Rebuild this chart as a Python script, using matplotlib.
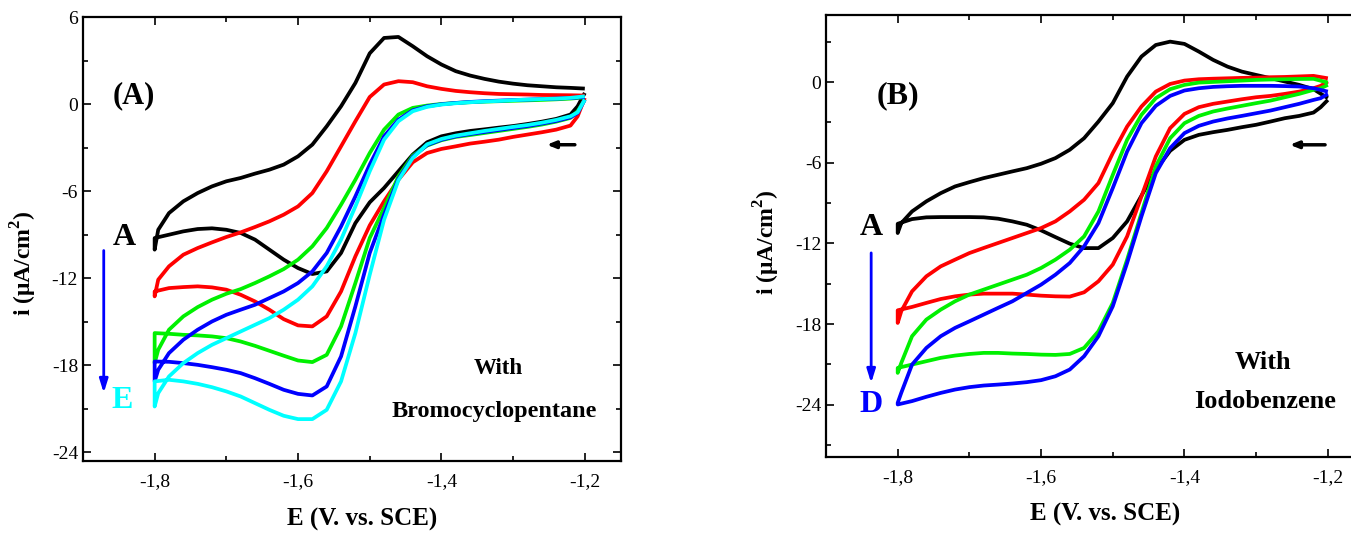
import matplotlib
matplotlib.use("Agg")
import matplotlib.pyplot as plt
from matplotlib.ticker import FixedLocator, FuncFormatter

plt.rcParams['font.family'] = ['Liberation Serif', 'DejaVu Serif']
plt.rcParams['axes.unicode_minus'] = False
plt.rcParams['mathtext.fontset'] = 'custom'
plt.rcParams['mathtext.rm'] = 'Liberation Serif'
plt.rcParams['mathtext.bf'] = 'Liberation Serif:bold'

# potential grids (V vs SCE): forward (cathodic) scan, then return scan
E_cath = [-1.20, -1.21, -1.22, -1.24, -1.26, -1.28, -1.30, -1.32, -1.34, -1.36,
          -1.38, -1.40, -1.42, -1.44, -1.46, -1.48, -1.50, -1.52, -1.54, -1.56,
          -1.58, -1.60, -1.62, -1.64, -1.66, -1.68, -1.70, -1.72, -1.74, -1.76,
          -1.78, -1.80]
E_anod = [-1.80, -1.795, -1.78, -1.76, -1.74, -1.72, -1.70, -1.68, -1.66, -1.64,
          -1.62, -1.60, -1.58, -1.56, -1.54, -1.52, -1.50, -1.48, -1.46, -1.44,
          -1.42, -1.40, -1.38, -1.36, -1.34, -1.32, -1.30, -1.28, -1.26, -1.24,
          -1.22, -1.20]

# panel A: with bromocyclopentane (i in uA/cm2)
a_black_c = [0.77, -0.15, -0.72, -1.02, -1.21, -1.37, -1.51, -1.62, -1.74, -1.85, -2.01, -2.22, -2.63, -3.48, -4.63, -5.78, -6.77, -8.20, -10.26, -11.53, -11.71, -11.30, -10.72, -10.03, -9.34, -8.88, -8.66, -8.56, -8.61, -8.77, -9.00, -9.23]
a_red_c = [0.43, -0.84, -1.48, -1.76, -1.94, -2.10, -2.26, -2.45, -2.59, -2.72, -2.91, -3.09, -3.37, -4.01, -5.21, -6.70, -8.36, -10.49, -12.91, -14.63, -15.32, -15.25, -14.82, -14.17, -13.60, -13.14, -12.79, -12.63, -12.56, -12.61, -12.68, -12.91]
a_green_c = [0.31, -0.49, -0.95, -1.21, -1.41, -1.57, -1.71, -1.85, -1.99, -2.13, -2.26, -2.49, -2.86, -3.55, -4.98, -7.16, -9.23, -12.33, -15.32, -17.28, -17.78, -17.67, -17.34, -17.00, -16.66, -16.36, -16.13, -16.01, -15.94, -15.90, -15.83, -15.78]
a_blue_c = [0.31, -0.61, -0.91, -1.16, -1.34, -1.51, -1.64, -1.78, -1.92, -2.06, -2.22, -2.45, -2.82, -3.64, -5.16, -7.62, -10.26, -13.94, -17.39, -19.46, -20.08, -19.97, -19.69, -19.28, -18.89, -18.54, -18.31, -18.13, -17.97, -17.85, -17.76, -17.74]
a_cyan_c = [0.31, -0.56, -0.84, -1.09, -1.28, -1.44, -1.57, -1.71, -1.85, -2.01, -2.17, -2.40, -2.77, -3.71, -5.25, -7.97, -11.76, -15.78, -19.11, -21.07, -21.71, -21.71, -21.48, -21.07, -20.61, -20.15, -19.80, -19.51, -19.28, -19.11, -19.00, -19.11]

a_black_a = [-10.03, -8.66, -7.51, -6.70, -6.13, -5.67, -5.32, -5.09, -4.79, -4.52, -4.17, -3.60, -2.79, -1.53, -0.15, 1.46, 3.50, 4.56, 4.63, 3.99, 3.30, 2.73, 2.27, 1.97, 1.74, 1.55, 1.41, 1.30, 1.23, 1.16, 1.12, 1.07]
a_red_a = [-13.25, -12.10, -11.18, -10.38, -9.92, -9.53, -9.16, -8.84, -8.47, -8.08, -7.62, -7.05, -6.13, -4.63, -2.91, -1.18, 0.49, 1.35, 1.58, 1.51, 1.23, 1.05, 0.91, 0.82, 0.75, 0.70, 0.68, 0.66, 0.63, 0.62, 0.61, 0.59]
a_green_a = [-17.85, -16.93, -15.55, -14.63, -13.99, -13.48, -13.07, -12.75, -12.33, -11.87, -11.37, -10.72, -9.80, -8.54, -6.93, -5.21, -3.37, -1.76, -0.72, -0.26, -0.10, 0.01, 0.08, 0.13, 0.17, 0.20, 0.23, 0.26, 0.29, 0.33, 0.38, 0.47]
a_blue_a = [-19.11, -18.31, -17.16, -16.24, -15.55, -14.98, -14.52, -14.17, -13.83, -13.37, -12.91, -12.33, -11.53, -10.26, -8.43, -6.36, -4.17, -2.22, -1.07, -0.43, -0.15, -0.01, 0.08, 0.15, 0.20, 0.24, 0.28, 0.31, 0.35, 0.38, 0.42, 0.49]
a_cyan_a = [-20.84, -19.92, -18.77, -17.85, -17.16, -16.59, -16.13, -15.67, -15.21, -14.75, -14.17, -13.48, -12.56, -11.18, -9.34, -7.05, -4.63, -2.45, -1.18, -0.49, -0.19, -0.03, 0.06, 0.13, 0.18, 0.22, 0.27, 0.31, 0.35, 0.38, 0.43, 0.54]

# panel B: with iodobenzene
b_black_c = [-1.32, -1.86, -2.26, -2.51, -2.68, -2.93, -3.17, -3.35, -3.55, -3.72, -3.92, -4.29, -5.11, -6.52, -8.45, -10.36, -11.60, -12.35, -12.35, -12.02, -11.53, -11.03, -10.61, -10.36, -10.16, -10.06, -10.04, -10.04, -10.04, -10.06, -10.19, -10.54]
b_red_c = [0.05, -0.27, -0.45, -0.70, -0.87, -1.02, -1.12, -1.27, -1.44, -1.61, -1.86, -2.36, -3.42, -5.53, -8.50, -11.48, -13.58, -14.82, -15.64, -15.96, -15.94, -15.89, -15.81, -15.74, -15.74, -15.74, -15.81, -15.94, -16.14, -16.43, -16.73, -16.98]
b_green_c = [-0.20, -0.45, -0.57, -0.87, -1.12, -1.37, -1.56, -1.76, -1.96, -2.18, -2.51, -3.05, -4.17, -6.27, -9.74, -13.21, -16.43, -18.54, -19.78, -20.23, -20.30, -20.28, -20.23, -20.20, -20.15, -20.15, -20.23, -20.35, -20.52, -20.77, -21.02, -21.27]
b_blue_c = [-0.87, -1.19, -1.32, -1.61, -1.86, -2.11, -2.31, -2.51, -2.70, -2.93, -3.25, -3.79, -4.91, -6.77, -9.99, -13.46, -16.68, -18.91, -20.40, -21.39, -21.89, -22.18, -22.33, -22.43, -22.51, -22.58, -22.70, -22.88, -23.13, -23.42, -23.74, -23.99]

b_black_a = [-11.23, -10.49, -9.62, -8.87, -8.26, -7.76, -7.44, -7.14, -6.89, -6.64, -6.40, -6.07, -5.65, -5.03, -4.17, -2.93, -1.56, 0.42, 1.91, 2.77, 3.02, 2.85, 2.28, 1.66, 1.16, 0.79, 0.54, 0.30, 0.05, -0.20, -0.52, -1.19]
b_red_a = [-17.92, -17.05, -15.57, -14.45, -13.71, -13.21, -12.72, -12.34, -11.97, -11.60, -11.23, -10.86, -10.36, -9.62, -8.75, -7.51, -5.28, -3.30, -1.81, -0.70, -0.13, 0.12, 0.22, 0.26, 0.29, 0.32, 0.34, 0.37, 0.39, 0.43, 0.47, 0.29]
b_green_a = [-21.64, -20.90, -18.91, -17.67, -16.93, -16.31, -15.81, -15.44, -15.07, -14.70, -14.33, -13.83, -13.21, -12.47, -11.48, -9.62, -6.90, -4.29, -2.43, -1.19, -0.52, -0.20, -0.03, 0.02, 0.07, 0.12, 0.17, 0.20, 0.22, 0.24, 0.25, -0.03]
b_blue_a = [-23.87, -23.12, -21.02, -19.78, -18.91, -18.29, -17.80, -17.30, -16.80, -16.31, -15.69, -15.07, -14.33, -13.46, -12.22, -10.49, -7.88, -5.16, -3.05, -1.76, -1.02, -0.62, -0.45, -0.35, -0.30, -0.27, -0.27, -0.27, -0.29, -0.32, -0.45, -0.70]

colors = {'black': '#000000', 'red': '#ff0000', 'green': '#00f000',
          'blue': '#0000ff', 'cyan': '#00ffff'}

curves_A = [('black', a_black_c, a_black_a), ('red', a_red_c, a_red_a),
            ('green', a_green_c, a_green_a), ('blue', a_blue_c, a_blue_a),
            ('cyan', a_cyan_c, a_cyan_a)]
curves_B = [('black', b_black_c, b_black_a), ('red', b_red_c, b_red_a),
            ('green', b_green_c, b_green_a), ('blue', b_blue_c, b_blue_a)]

fig = plt.figure(figsize=(13.51, 5.33), dpi=100)
axA = fig.add_axes([0.0614, 0.135, 0.398, 0.833])
axB = fig.add_axes([0.6114, 0.1426, 0.398, 0.8287])


def style_axes(ax, ylim, yticks, yminor):
    ax.set_xlim(-1.9, -1.15)
    ax.set_ylim(*ylim)
    ax.xaxis.set_major_locator(FixedLocator([-1.8, -1.6, -1.4, -1.2]))
    ax.xaxis.set_minor_locator(FixedLocator([-1.7, -1.5, -1.3]))
    ax.yaxis.set_major_locator(FixedLocator(yticks))
    ax.yaxis.set_minor_locator(FixedLocator(yminor))
    ax.xaxis.set_major_formatter(FuncFormatter(lambda v, p: f"{v:.1f}".replace('.', ',')))
    ax.yaxis.set_major_formatter(FuncFormatter(lambda v, p: f"{v:.0f}"))
    ax.tick_params(which='both', direction='in', top=True, right=True, width=1.2, labelsize=14)
    ax.tick_params(which='major', length=6)
    ax.tick_params(which='minor', length=3.5)
    ax.tick_params(axis='x', pad=9)
    for s in ax.spines.values():
        s.set_linewidth(1.6)
    ax.set_xlabel('E (V. vs. SCE)', fontsize=18, fontweight='bold')
    ax.xaxis.set_label_coords(0.52, -0.105)


for name, ic, ia in curves_A:
    axA.plot(E_cath + E_anod, ic + ia, color=colors[name], lw=2.7, solid_capstyle='butt')
for name, ic, ia in curves_B:
    axB.plot(E_cath + E_anod, ic + ia, color=colors[name], lw=2.7, solid_capstyle='butt')

style_axes(axA, (-24.6, 6), [-24, -18, -12, -6, 0, 6], [-21, -15, -9, -3, 3])
style_axes(axB, (-27.9, 4.98), [-24, -18, -12, -6, 0], [-27, -21, -15, -9, -3, 3])

ylab = r'i ($\mathbf{\mu}$A/cm$^{\mathbf{2}}$)'
axA.set_ylabel(ylab, fontsize=17, fontweight='bold')
axA.yaxis.set_label_coords(-0.082, 0.446)
axB.set_ylabel(ylab, fontsize=17, fontweight='bold')
axB.yaxis.set_label_coords(-0.082, 0.487)

# panel A annotations
axA.text(-1.829, 0.59, '(A)', fontsize=22, fontweight='bold', ha='center', va='center')
axA.text(-1.842, -9.2, 'A', fontsize=23, fontweight='bold', ha='center', va='center')
axA.text(-1.845, -20.4, 'E', fontsize=23, fontweight='bold', ha='center', va='center', color='#00ffff')
axA.annotate('', xy=(-1.871, -20.1), xytext=(-1.871, -9.9),
             arrowprops=dict(arrowstyle='-|>,head_length=0.8,head_width=0.25', color='#0000ff', lw=2))
axA.annotate('', xy=(-1.257, -2.8), xytext=(-1.21, -2.8),
             arrowprops=dict(arrowstyle='-|>,head_length=0.5,head_width=0.2', color='black', lw=2.5))
axA.text(-1.321, -18.2, 'With', fontsize=16.5, fontweight='bold', ha='center', va='center')
axA.text(-1.327, -21.2, 'Bromocyclopentane', fontsize=17.5, fontweight='bold', ha='center', va='center')

# panel B annotations
axB.text(-1.80, -1.02, '(B)', fontsize=23, fontweight='bold', ha='center', va='center')
axB.text(-1.837, -10.8, 'A', fontsize=23, fontweight='bold', ha='center', va='center')
axB.text(-1.837, -24.0, 'D', fontsize=23, fontweight='bold', ha='center', va='center', color='#0000ff')
axB.annotate('', xy=(-1.837, -22.6), xytext=(-1.837, -12.5),
             arrowprops=dict(arrowstyle='-|>,head_length=0.8,head_width=0.25', color='#0000ff', lw=2))
axB.annotate('', xy=(-1.257, -4.66), xytext=(-1.20, -4.66),
             arrowprops=dict(arrowstyle='-|>,head_length=0.5,head_width=0.2', color='black', lw=2.5))
axB.text(-1.291, -20.9, 'With', fontsize=19, fontweight='bold', ha='center', va='center')
axB.text(-1.288, -23.8, 'Iodobenzene', fontsize=19, fontweight='bold', ha='center', va='center')

fig.savefig('out.png', dpi=100)
